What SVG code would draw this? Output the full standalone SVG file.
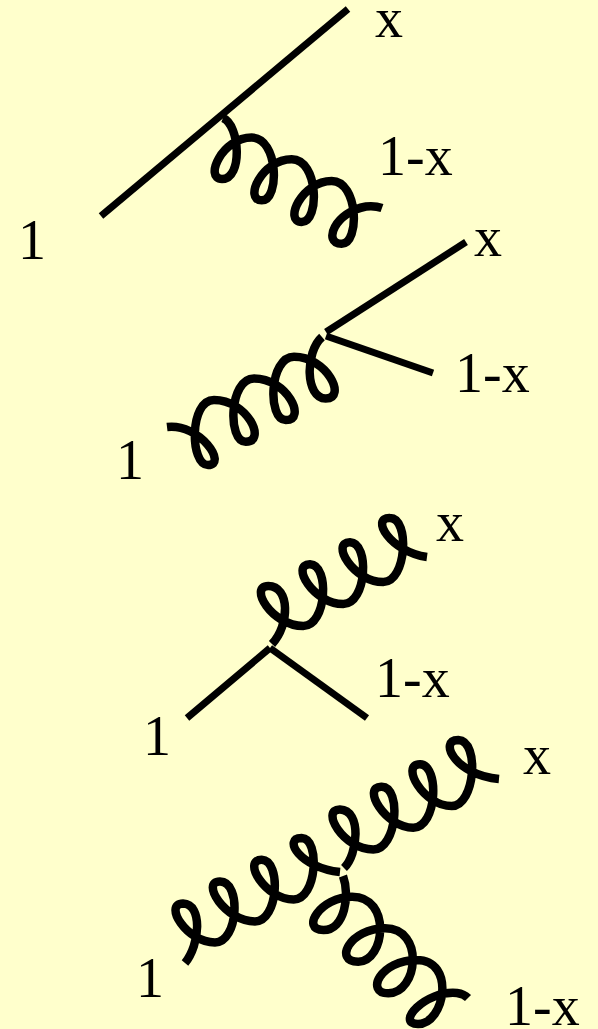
<svg xmlns="http://www.w3.org/2000/svg" width="598" height="1029" viewBox="0 0 598 1029">
<style>
.l{fill:none;stroke:#000;stroke-width:7}
.g{fill:none;stroke:#000;stroke-width:8.5;stroke-linejoin:round}
text{font-family:"Liberation Serif","Times New Roman",serif;font-size:56px;fill:#000}
</style>
<rect width="598" height="1029" fill="#ffffcc"/>
<g id="connectors">
<line class="l" x1="101" y1="216" x2="348" y2="9"/>
<path class="g" d="M223,118 C240,125 243,179 222,179 c-18.3,0 0,-41.4 29.7,-41.4 c26.7,0 28.3,62.7 10,62.7 c-18.3,0 0,-41 30,-41 c26.7,0 28.3,62.7 10,62.7 c-18.3,0 0,-41 30,-41 c26.7,0 28.3,62.7 10,62.7 C322,243.4 335,212 366,206.5 Q375,205.5 382,208"/>
<line class="l" x1="326" y1="332" x2="466" y2="242"/>
<line class="l" x1="326" y1="336" x2="433" y2="373"/>
<path class="g" d="M167,427 C200,423 228,465 208,465 c-18,0 -19,-65 6,-65 c33.3,0 53.3,41.7 31.7,41.7 c-18.3,0 -16.7,-63.3 8.3,-63.3 c33.3,0 53.3,41.7 31.7,41.7 c-18.3,0 -16.7,-63.3 8.3,-63.3 c33.3,0 53.3,41.7 31.7,41.7 C305,398 305,352 322,337"/>
<line class="l" x1="187" y1="718" x2="270" y2="648"/>
<line class="l" x1="270" y1="648" x2="367" y2="718"/>
<path class="g" d="M272,644 C290,625 290,586 268.3,586 c-20,0 3.3,40 35,40 c23.3,0 26.7,-61 6.7,-61.7 c-20,-0.3 3.3,39.7 33.3,39.7 c23.3,0 26.7,-61 6.7,-61.7 c-20,-0.3 3.3,39.7 33.3,39.7 c23.3,0 26.7,-64 6.7,-64 C370,517 390,552 427,557"/>
<path class="g" d="M185,963 C200,945 203,904 183,903.5 c-20,0 3.3,39 32,39 c23.3,0 26.7,-61 5,-61 c-20,-0.3 5,40 35,40 c23.3,0 26.7,-61 6.7,-61.7 c-20,-0.3 3.3,39.7 32,39.7 c23.3,0 26.7,-61 8,-61.5 C282,838 300,868 340,872"/>
<path class="g" d="M344,868 C358,855 362,810 340,809.5 C320,809 343,849.5 373.3,849.5 C397,849.5 402,787 381.7,786.7 C361,786 385,827.7 413.3,827.7 C437,827.7 440,765 420,764.3 C400,764 423,806 451.7,806 C475,806 480,741 458.3,740 C438,740 455,775 499,779"/>
<path class="g" d="M343,876 C350,895 345,930 323.5,930 C300,930 320,897 352,896.7 C392,896.7 385,961.7 358.3,961.7 C333,961.7 350,928.3 385,928.3 C425,928.3 418,993.3 388.3,993.3 C365,993.3 380,960 416.7,960 C456,960 445,1024 418,1024 C395,1024 425,990 457,993 Q464,994 468,998"/>
</g>
<g id="labels">
<text x="375" y="37">x</text>
<text x="378" y="175">1-x</text>
<text x="18" y="259">1</text>
<text x="474" y="256">x</text>
<text x="455" y="392">1-x</text>
<text x="116" y="479">1</text>
<text x="436" y="541">x</text>
<text x="375" y="697">1-x</text>
<text x="143" y="755">1</text>
<text x="523" y="774">x</text>
<text x="505" y="1025">1-x</text>
<text x="136" y="997">1</text>
</g>
</svg>
